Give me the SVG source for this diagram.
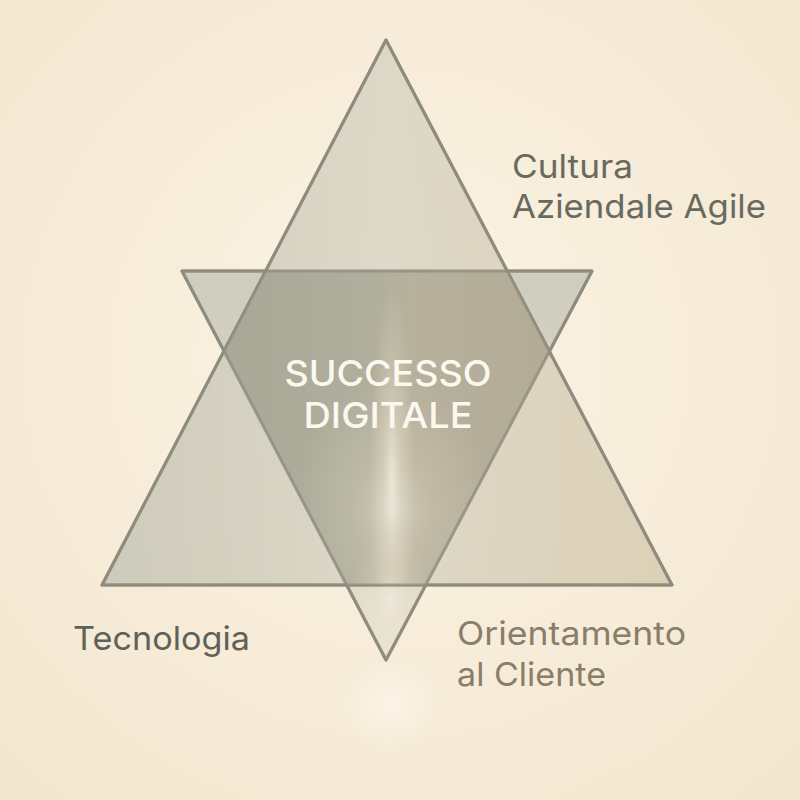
<svg xmlns="http://www.w3.org/2000/svg" width="800" height="800" viewBox="0 0 800 800">
  <defs>
    <radialGradient id="bg" cx="0.5" cy="0.45" r="0.75">
      <stop offset="0" stop-color="#fbf3e4"/>
      <stop offset="1" stop-color="#f3e6cf"/>
    </radialGradient>
    <linearGradient id="upFill" x1="0" y1="0" x2="1" y2="0">
      <stop offset="0" stop-color="#c6c5b6"/>
      <stop offset="0.5" stop-color="#d9d4c4"/>
      <stop offset="1" stop-color="#d8cbb0"/>
    </linearGradient>
    <linearGradient id="downFill" x1="0" y1="0" x2="0" y2="1">
      <stop offset="0" stop-color="#cfcdbf"/>
      <stop offset="0.75" stop-color="#dcd6c6"/>
      <stop offset="1" stop-color="#ece4d2"/>
    </linearGradient>
    <linearGradient id="coreFill" x1="0" y1="0" x2="1" y2="0">
      <stop offset="0" stop-color="#a6a795"/>
      <stop offset="0.45" stop-color="#b0ae9c"/>
      <stop offset="0.55" stop-color="#b6b09c"/>
      <stop offset="1" stop-color="#b2aa95"/>
    </linearGradient>
    <radialGradient id="glow" cx="0.5" cy="0.5" r="0.5">
      <stop offset="0" stop-color="#fffaf0" stop-opacity="0.85"/>
      <stop offset="0.4" stop-color="#f6ecd8" stop-opacity="0.4"/>
      <stop offset="1" stop-color="#f6ecd8" stop-opacity="0"/>
    </radialGradient>
    <radialGradient id="lowGlow" cx="0.5" cy="0.5" r="0.5">
      <stop offset="0" stop-color="#fffaf0" stop-opacity="0.6"/>
      <stop offset="1" stop-color="#fffaf0" stop-opacity="0"/>
    </radialGradient>
    <clipPath id="downClip">
      <polygon points="182,271 592,271 386,660"/>
    </clipPath>
    <clipPath id="upClip">
      <polygon points="386,40 672,585 102,585"/>
    </clipPath>
    <style>
      .tri { stroke: #8f8c7f; stroke-width: 3; stroke-linejoin: round; }
      .lbl { font-family: Inter, "Liberation Sans", sans-serif; font-size: 33px; }
      .center { font-family: Inter, "Liberation Sans", sans-serif; font-size: 36px; fill: #fbf8f0; text-anchor: middle; font-weight: 500; }
    </style>
  </defs>
  <rect width="800" height="800" fill="url(#bg)"/>
  <ellipse cx="390" cy="705" rx="50" ry="45" fill="url(#lowGlow)"/>

  <g id="triangle-down">
    <polygon class="tri" points="182,271 592,271 386,660" fill="url(#downFill)"/>
  </g>
  <g id="triangle-up">
    <polygon class="tri" points="386,40 672,585 102,585" fill="url(#upFill)" fill-opacity="0.85"/>
  </g>
  <g id="core">
    <g clip-path="url(#upClip)">
      <polygon points="182,271 592,271 386,660" fill="url(#coreFill)" clip-path="url(#downClip)"/>
      <g clip-path="url(#downClip)">
        <ellipse cx="392" cy="480" rx="22" ry="200" fill="url(#glow)" opacity="0.8"/>
        <ellipse cx="392" cy="510" rx="100" ry="130" fill="url(#glow)" opacity="0.45"/>
      </g>
    </g>
    <g clip-path="url(#downClip)">
      <ellipse cx="390" cy="600" rx="40" ry="70" fill="url(#glow)" opacity="0.5"/>
    </g>
    <polygon class="tri" points="182,271 592,271 386,660" fill="none" stroke-opacity="0.8"/>
    <polygon class="tri" points="386,40 672,585 102,585" fill="none" stroke-opacity="0.8"/>
    <text class="center" x="388" y="386" textLength="207" lengthAdjust="spacingAndGlyphs">SUCCESSO</text>
    <text class="center" x="388" y="428" textLength="169" lengthAdjust="spacingAndGlyphs">DIGITALE</text>
  </g>

  <g id="label-cultura">
    <text class="lbl" fill="#696a5f" x="512" y="178" textLength="121" lengthAdjust="spacingAndGlyphs">Cultura</text>
    <text class="lbl" fill="#696a5f" x="512" y="218" textLength="254" lengthAdjust="spacingAndGlyphs">Aziendale Agile</text>
  </g>
  <g id="label-tecnologia">
    <text class="lbl" fill="#5f6258" x="73" y="650" textLength="177" lengthAdjust="spacingAndGlyphs">Tecnologia</text>
  </g>
  <g id="label-cliente">
    <text class="lbl" fill="#8a7e69" x="457" y="645" textLength="229" lengthAdjust="spacingAndGlyphs">Orientamento</text>
    <text class="lbl" fill="#8a7e69" x="457" y="686" textLength="149" lengthAdjust="spacingAndGlyphs">al Cliente</text>
  </g>
</svg>
